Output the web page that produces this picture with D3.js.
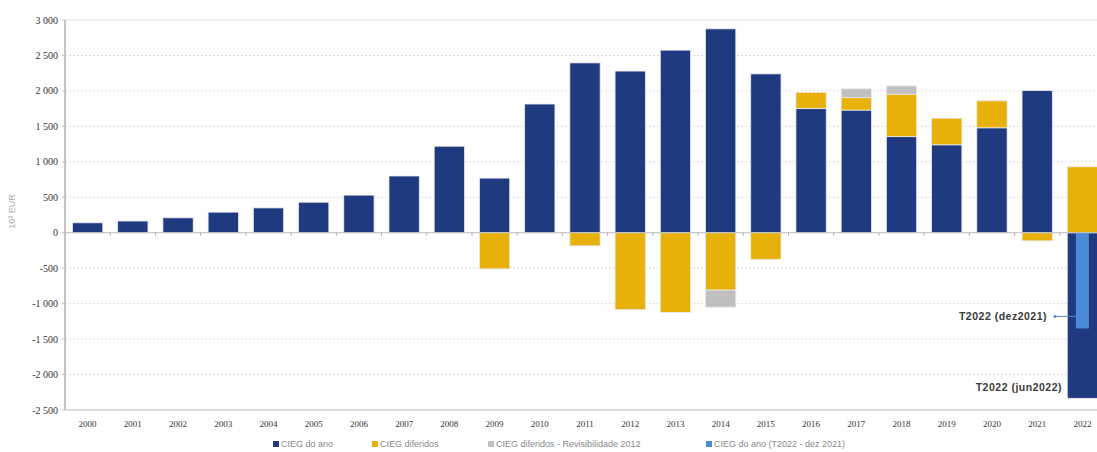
<!DOCTYPE html>
<html>
<head>
<meta charset="utf-8">
<script src="https://cdn.jsdelivr.net/npm/d3@7"></script>
<style>
  body { margin: 0; background: #fff; }
  svg { display: block; }
  .tick-lbl { font-family: "Liberation Serif", serif; font-size: 10px; fill: #333; }
  .legend text { font-family: "Liberation Sans", sans-serif; font-size: 9px; fill: #888; }
  .note { font-family: "Liberation Sans", sans-serif; font-size: 10.5px; font-weight: 600; letter-spacing: 0.5px; fill: #3a3a3a; }
</style>
</head>
<body>
<svg id="chart" width="1097" height="452"></svg>
<script>
// Data (10^3 EUR)
const years = d3.range(2000, 2023).map(String);
const ciegAno = [140, 165, 210, 290, 350, 430, 530, 800, 1220, 770, 1815, 2395, 2280, 2575, 2875, 2240, 1750, 1730, 1355, 1240, 1480, 2005, -2335];
const ciegDiferidos = [0, 0, 0, 0, 0, 0, 0, 0, 0, -510, 0, -185, -1085, -1125, -810, -375, 230, 175, 600, 375, 380, -115, 930];
const ciegRevis = [0, 0, 0, 0, 0, 0, 0, 0, 0, 0, 0, 0, 0, 0, -240, 0, 0, 125, 115, 0, 0, 0, 0];
const ciegAnoDez = [0, 0, 0, 0, 0, 0, 0, 0, 0, 0, 0, 0, 0, 0, 0, 0, 0, 0, 0, 0, 0, 0, -1350];
const yTicks = [-2500, -2000, -1500, -1000, -500, 0, 500, 1000, 1500, 2000, 2500, 3000];

const seriesKeys = ['ano', 'dif', 'rev'];
const colors = { ano: '#1f3a7e', dif: '#e8b10a', rev: '#bfbfbf', dez: '#4a8ad6' };
const legendItems = [
  { key: 'ano', label: 'CIEG do ano' },
  { key: 'dif', label: 'CIEG diferidos' },
  { key: 'rev', label: 'CIEG diferidos - Revisibilidade 2012' },
  { key: 'dez', label: 'CIEG do ano (T2022 - dez 2021)' }
];

const rows = years.map((y, i) => ({ year: y, ano: ciegAno[i], dif: ciegDiferidos[i], rev: ciegRevis[i], dez: ciegAnoDez[i] }));

const svg = d3.select('#chart');
const plotL = 65, plotR = 1105, plotT = 20, plotB = 410;

const x = d3.scaleBand().domain(years).range([plotL, plotR]).paddingInner(0.33).paddingOuter(0.165);
const y = d3.scaleLinear().domain([-2500, 3000]).range([plotB, plotT]);
const fmt = d => d3.format(',')(d).replace(/,/g, ' ').replace('−', '-');

// gridlines
svg.append('g').selectAll('line')
  .data(yTicks.filter(t => t !== -2500 && t !== 0))
  .join('line')
  .attr('x1', plotL).attr('x2', 1097)
  .attr('y1', d => y(d)).attr('y2', d => y(d))
  .attr('stroke', '#dcdcdc')
  .attr('stroke-dasharray', d => d === 3000 ? null : '2,2');

// y tick labels
svg.append('g').selectAll('text')
  .data(yTicks)
  .join('text')
  .attr('class', 'tick-lbl')
  .attr('x', 58).attr('y', d => y(d) + 3.5)
  .attr('text-anchor', 'end')
  .text(fmt);

// y ticks
svg.append('g').selectAll('line')
  .data(yTicks)
  .join('line')
  .attr('x1', plotL - 3).attr('x2', plotL)
  .attr('y1', d => y(d)).attr('y2', d => y(d))
  .attr('stroke', '#c0c0c0');

// y axis title
svg.append('text')
  .attr('transform', `translate(15,${y(300)}) rotate(-90)`)
  .attr('text-anchor', 'middle')
  .style('font-family', 'Liberation Sans, sans-serif')
  .style('font-size', '9px')
  .style('fill', '#aaa')
  .text('10³ EUR');

// stacked bars
const stacked = d3.stack().keys(seriesKeys).offset(d3.stackOffsetDiverging)(rows);

svg.append('g').selectAll('g')
  .data(stacked)
  .join('g')
  .attr('fill', d => colors[d.key])
  .selectAll('rect')
  .data(d => d.filter(s => s[1] !== s[0]))
  .join('rect')
  .attr('x', d => x(d.data.year))
  .attr('width', x.bandwidth())
  .attr('y', d => y(Math.max(d[0], d[1])))
  .attr('height', d => Math.abs(y(d[0]) - y(d[1])))
  .attr('stroke', '#e6e9f0')
  .attr('stroke-width', 0.8);

// overlay bar (T2022 - dez 2021)
const dezW = 13;
svg.append('g').selectAll('rect')
  .data(rows.filter(d => d.dez !== 0))
  .join('rect')
  .attr('x', d => x(d.year) + x.bandwidth() / 2 - dezW / 2)
  .attr('width', dezW)
  .attr('y', y(0))
  .attr('height', d => y(d.dez) - y(0))
  .attr('fill', colors.dez);

// zero line + ticks
svg.append('line')
  .attr('x1', plotL).attr('x2', 1097)
  .attr('y1', y(0)).attr('y2', y(0))
  .attr('stroke', '#bbb');
svg.append('g').selectAll('line')
  .data(years.slice(1))
  .join('line')
  .attr('x1', d => x(d) - x.step() * 0.165).attr('x2', d => x(d) - x.step() * 0.165)
  .attr('y1', y(0)).attr('y2', y(0) + 3)
  .attr('stroke', '#aaa');

// bottom axis + left axis line
svg.append('line')
  .attr('x1', plotL).attr('x2', 1097)
  .attr('y1', plotB).attr('y2', plotB)
  .attr('stroke', '#cfcfcf').attr('stroke-width', 1.5);
svg.append('line')
  .attr('x1', plotL).attr('x2', plotL)
  .attr('y1', plotT).attr('y2', plotB)
  .attr('stroke', '#c4c4c4').attr('stroke-width', 2);

// x labels
svg.append('g').selectAll('text')
  .data(years)
  .join('text')
  .attr('class', 'tick-lbl')
  .style('font-size', '9px')
  .attr('x', d => x(d) + x.bandwidth() / 2)
  .attr('y', 427)
  .attr('text-anchor', 'middle')
  .text(d => d);

// annotations
const last = rows[rows.length - 1];
const cx = x(last.year) + x.bandwidth() / 2;
svg.append('text').attr('class', 'note')
  .attr('x', 1047).attr('y', y(-1180) + 3.5)
  .attr('text-anchor', 'end')
  .text('T2022 (dez2021)');
svg.append('line')
  .attr('x1', 1055).attr('x2', cx - dezW / 2)
  .attr('y1', y(-1180)).attr('y2', y(-1180))
  .attr('stroke', colors.dez).attr('stroke-width', 1);
svg.append('circle')
  .attr('cx', 1055).attr('cy', y(-1180)).attr('r', 1.5)
  .attr('fill', colors.dez);
svg.append('text').attr('class', 'note')
  .attr('x', 1062).attr('y', y(-2180) + 3.5)
  .attr('text-anchor', 'end')
  .text('T2022 (jun2022)');

// legend
const legendX = [273, 372, 488, 706];
const legend = svg.append('g').attr('class', 'legend')
  .selectAll('g')
  .data(legendItems)
  .join('g')
  .attr('transform', (d, i) => `translate(${legendX[i]},447)`);
legend.append('rect')
  .attr('x', 0).attr('y', -6).attr('width', 6).attr('height', 6)
  .attr('fill', d => colors[d.key]);
legend.append('text')
  .attr('x', 8).attr('y', 0)
  .text(d => d.label);
</script>
</body>
</html>
